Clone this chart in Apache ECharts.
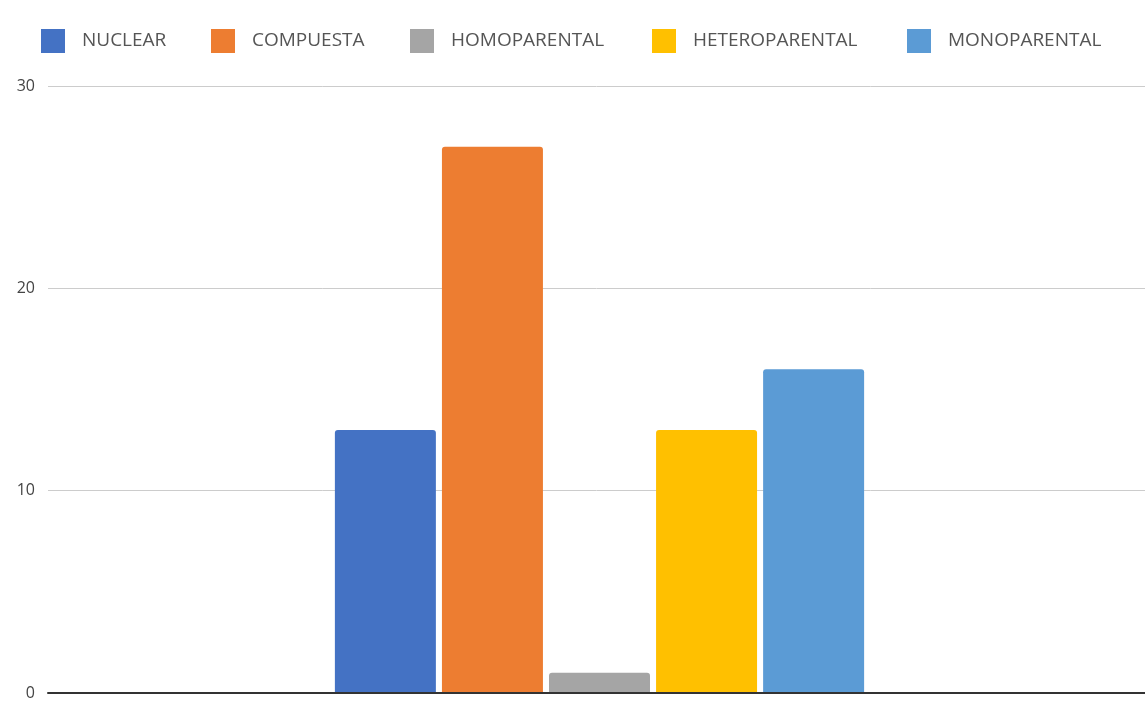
<!DOCTYPE html>
<html>
<head>
<meta charset="utf-8">
<script src="https://cdn.jsdelivr.net/npm/echarts@6/dist/echarts.min.js"></script>
<style>
  html, body { margin: 0; padding: 0; background: #fff; }
  #chart { width: 1145px; height: 707px; }
</style>
</head>
<body>
<div id="chart"></div>
<script>
const seriesNames = ['NUCLEAR', 'COMPUESTA', 'HOMOPARENTAL', 'HETEROPARENTAL', 'MONOPARENTAL'];
const seriesValues = [13, 27, 1, 13, 16];
const seriesColors = ['#4472C4', '#ED7D31', '#A5A5A5', '#FFC000', '#5B9BD5'];
const yTicks = [0, 10, 20, 30];
const legendLeft = [36, 206, 405, 647, 902];

let myChart = echarts.init(document.getElementById('chart'));

// grid 0 draws the axes and gridlines, grid 1 (a few px narrower) holds the bars
let option = {
  animation: false,
  color: seriesColors,
  legend: seriesNames.map((name, i) => ({
    data: [name],
    left: legendLeft[i],
    top: 24,
    itemWidth: 24,
    itemHeight: 24,
    icon: 'rect',
    selectedMode: false,
    textStyle: {
      fontFamily: 'Open Sans',
      fontSize: 19,
      color: '#555',
      padding: [0, 0, 0, 12],
    },
  })),
  grid: [
    { left: 48, right: 0, top: 86, bottom: 14 },
    { left: 54, right: 0, top: 86, bottom: 14 },
  ],
  xAxis: [
    {
      type: 'category',
      gridIndex: 0,
      data: [''],
      axisTick: { show: false },
      axisLabel: { show: false },
      axisLine: { lineStyle: { color: '#333', width: 2 } },
      z: 5,
    },
    {
      type: 'category',
      gridIndex: 1,
      data: [''],
      show: false,
    },
  ],
  yAxis: [
    {
      type: 'value',
      gridIndex: 0,
      min: yTicks[0],
      max: yTicks[yTicks.length - 1],
      interval: 10,
      axisLabel: {
        fontFamily: 'Open Sans',
        fontSize: 16,
        color: '#444',
        margin: 13,
      },
      splitLine: { lineStyle: { color: '#ccc', width: 1 } },
    },
    {
      type: 'value',
      gridIndex: 1,
      min: yTicks[0],
      max: yTicks[yTicks.length - 1],
      show: false,
    },
  ],
  series: seriesNames.map((name, i) => ({
    name: name,
    type: 'bar',
    xAxisIndex: 1,
    yAxisIndex: 1,
    data: [seriesValues[i]],
    barWidth: 101,
    barGap: '6%',
    itemStyle: { borderRadius: [3, 3, 0, 0] },
  })),
};

myChart.setOption(option);
</script>
</body>
</html>
